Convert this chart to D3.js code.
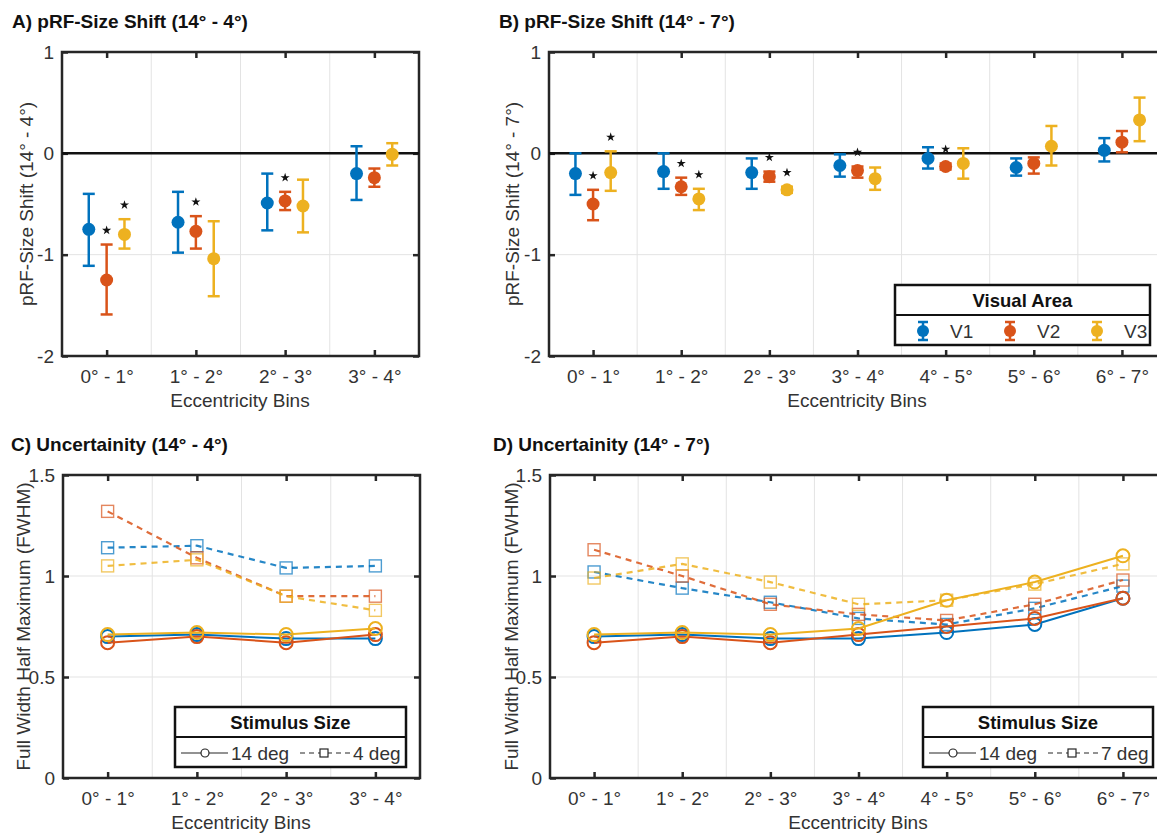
<!DOCTYPE html>
<html>
<head>
<meta charset="utf-8">
<script src="https://cdn.jsdelivr.net/npm/d3@7"></script>
<style>
  body { margin: 0; background: #fff; }
  svg { font-family: "Liberation Sans", Arial, sans-serif; }
  .tick text { fill: #333; font-size: 19px; }
</style>
</head>
<body>
<div id="chart"></div>
<script>
// bins and areas
var bins4 = ["0° - 1°", "1° - 2°", "2° - 3°", "3° - 4°"];
var bins7 = ["0° - 1°", "1° - 2°", "2° - 3°", "3° - 4°", "4° - 5°", "5° - 6°", "6° - 7°"];
var areas = ["V1", "V2", "V3"];
var colors = ["#0072BD", "#D95319", "#EDB120"];

// A) shift 14 - 4 : mean, lower, upper per area
var shiftA_mean = [[-0.75, -0.68, -0.49, -0.20], [-1.25, -0.77, -0.47, -0.24], [-0.80, -1.04, -0.52, -0.01]];
var shiftA_low  = [[-1.11, -0.98, -0.76, -0.46], [-1.59, -0.94, -0.56, -0.33], [-0.94, -1.41, -0.78, -0.12]];
var shiftA_high = [[-0.40, -0.38, -0.20, 0.07], [-0.90, -0.62, -0.38, -0.15], [-0.65, -0.67, -0.26, 0.10]];
var shiftA_sig  = [[0, 0, 0, 0], [1, 1, 1, 0], [1, 0, 0, 0]];

// B) shift 14 - 7
var shiftB_mean = [[-0.20, -0.18, -0.19, -0.12, -0.05, -0.14, 0.03], [-0.50, -0.33, -0.23, -0.17, -0.13, -0.10, 0.11], [-0.19, -0.45, -0.36, -0.25, -0.10, 0.07, 0.33]];
var shiftB_low  = [[-0.41, -0.35, -0.35, -0.23, -0.15, -0.22, -0.08], [-0.66, -0.41, -0.28, -0.24, -0.16, -0.20, 0.01], [-0.37, -0.56, -0.39, -0.36, -0.25, -0.12, 0.12]];
var shiftB_high = [[0.00, 0.00, -0.05, -0.01, 0.06, -0.05, 0.15], [-0.36, -0.24, -0.18, -0.13, -0.10, -0.04, 0.22], [0.02, -0.35, -0.33, -0.14, 0.05, 0.27, 0.55]];
var shiftB_sig  = [[0, 0, 0, 0, 0, 0, 0], [1, 1, 1, 1, 1, 0, 0], [1, 1, 1, 0, 0, 0, 0]];

// C) FWHM, 14 deg (solid) and 4 deg (dashed)
var fwhmC_14 = [[0.70, 0.71, 0.69, 0.69], [0.67, 0.70, 0.67, 0.71], [0.71, 0.72, 0.71, 0.74]];
var fwhmC_4  = [[1.14, 1.15, 1.04, 1.05], [1.32, 1.09, 0.90, 0.90], [1.05, 1.08, 0.90, 0.83]];

// D) FWHM, 14 deg (solid) and 7 deg (dashed)
var fwhmD_14 = [[0.70, 0.71, 0.69, 0.69, 0.72, 0.76, 0.89], [0.67, 0.70, 0.67, 0.71, 0.75, 0.79, 0.89], [0.71, 0.72, 0.71, 0.74, 0.88, 0.97, 1.10]];
var fwhmD_7  = [[1.02, 0.94, 0.87, 0.79, 0.76, 0.84, 0.95], [1.13, 1.00, 0.86, 0.81, 0.78, 0.86, 0.98], [0.99, 1.06, 0.97, 0.86, 0.88, 0.96, 1.06]];

var svgWidth = 1157, svgHeight = 836;
var ink = "#262626";

var svg = d3.select("#chart").append("svg")
  .attr("width", svgWidth)
  .attr("height", svgHeight);

// common frame: grid, box, ticks, labels
function drawFrame(o) {
  var n = o.bins.length;
  var x = d3.scaleLinear().domain([0.5, n + 0.5]).range([o.left, o.right]);
  var y = d3.scaleLinear().domain(o.yDomain).range([o.bottom, o.top]);
  var g = svg.append("g");

  // grid
  g.selectAll(".vgrid").data(d3.range(1, n)).enter().append("line")
    .attr("x1", d => x(d + 0.5)).attr("x2", d => x(d + 0.5))
    .attr("y1", o.top).attr("y2", o.bottom)
    .attr("stroke", "#e3e3e3").attr("stroke-width", 1);
  g.selectAll(".hgrid").data(o.yTicks.slice(1, -1)).enter().append("line")
    .attr("x1", o.left).attr("x2", o.right)
    .attr("y1", d => y(d)).attr("y2", d => y(d))
    .attr("stroke", "#e3e3e3").attr("stroke-width", 1);

  // axes
  var xb = d3.axisBottom(x).tickValues(d3.range(1, n + 1)).tickFormat(d => o.bins[d - 1])
    .tickSizeInner(-6).tickSizeOuter(0).tickPadding(14);
  var xt = d3.axisTop(x).tickValues(d3.range(1, n + 1)).tickFormat("")
    .tickSizeInner(-6).tickSizeOuter(0);
  var yl = d3.axisLeft(y).tickValues(o.yTicks).tickFormat(d => String(d)).tickSizeInner(-6).tickSizeOuter(0).tickPadding(8);
  var yr = d3.axisRight(y).tickValues(o.yTicks).tickFormat("").tickSizeInner(-6).tickSizeOuter(0);

  [g.append("g").attr("transform", `translate(0,${o.bottom})`).call(xb),
   g.append("g").attr("transform", `translate(0,${o.top})`).call(xt),
   g.append("g").attr("transform", `translate(${o.left},0)`).call(yl),
   g.append("g").attr("transform", `translate(${o.right},0)`).call(yr)].forEach(function(a) {
    a.select(".domain").remove();
    a.selectAll(".tick line").attr("stroke", ink).attr("stroke-width", 2.5);
  });

  g.append("rect")
    .attr("x", o.left).attr("y", o.top)
    .attr("width", o.right - o.left).attr("height", o.bottom - o.top)
    .attr("fill", "none").attr("stroke", ink).attr("stroke-width", 2.5);

  // labels
  svg.append("text")
    .attr("x", o.titleX).attr("y", o.top - 24)
    .attr("font-size", 19).attr("font-weight", "bold").attr("fill", "#111")
    .text(o.title);
  svg.append("text")
    .attr("x", o.labelMid)
    .attr("y", o.bottom + 51)
    .attr("text-anchor", "middle").attr("font-size", 19).attr("fill", "#333")
    .text("Eccentricity Bins");
  svg.append("text")
    .attr("transform", `translate(${o.ylabelX}, ${(o.top + o.bottom) / 2}) rotate(-90)`)
    .attr("text-anchor", "middle").attr("font-size", 19).attr("fill", "#333")
    .text(o.ylabel);

  return { g: g, x: x, y: y };
}

function drawShift(o, mean, low, high, sig) {
  var f = drawFrame(o);
  var x = f.x, y = f.y, g = f.g;
  g.append("line")
    .attr("x1", o.left).attr("x2", o.right)
    .attr("y1", y(0)).attr("y2", y(0))
    .attr("stroke", "#111").attr("stroke-width", 2.5);

  areas.forEach(function(a, k) {
    var dx = (k - 1) * 0.2;
    var rows = mean[k].map((m, i) => ({ i: i + 1, m: m, lo: low[k][i], hi: high[k][i], s: sig[k][i] }));
    var s = g.append("g").attr("stroke", colors[k]).attr("fill", colors[k]);
    s.selectAll(".eb").data(rows).enter().append("line")
      .attr("x1", d => x(d.i + dx)).attr("x2", d => x(d.i + dx))
      .attr("y1", d => y(d.lo)).attr("y2", d => y(d.hi)).attr("stroke-width", 2.5);
    s.selectAll(".capl").data(rows).enter().append("line")
      .attr("x1", d => x(d.i + dx) - 6).attr("x2", d => x(d.i + dx) + 6)
      .attr("y1", d => y(d.lo)).attr("y2", d => y(d.lo)).attr("stroke-width", 2.5);
    s.selectAll(".caph").data(rows).enter().append("line")
      .attr("x1", d => x(d.i + dx) - 6).attr("x2", d => x(d.i + dx) + 6)
      .attr("y1", d => y(d.hi)).attr("y2", d => y(d.hi)).attr("stroke-width", 2.5);
    s.selectAll("circle").data(rows).enter().append("circle")
      .attr("cx", d => x(d.i + dx)).attr("cy", d => y(d.m)).attr("r", 6.5).attr("stroke", "none");
    g.selectAll(".star" + k).data(rows.filter(d => d.s)).enter().append("path")
      .attr("d", d3.symbol(d3.symbolStar, 26))
      .attr("transform", d => `translate(${x(d.i + dx)},${y(d.hi + 0.14)})`)
      .attr("fill", "#111");
  });
}

function drawFwhm(o, solid, dashed) {
  var f = drawFrame(o);
  var x = f.x, y = f.y, g = f.g;
  var line = d3.line().x((d, i) => x(i + 1)).y(d => y(d));
  areas.forEach(function(a, k) {
    g.append("path").attr("d", line(dashed[k])).attr("fill", "none")
      .attr("stroke", colors[k]).attr("stroke-width", 2.2).attr("stroke-dasharray", "6,5").attr("stroke-opacity", 0.85);
    g.selectAll(".sq" + k).data(dashed[k]).enter().append("rect")
      .attr("x", (d, i) => x(i + 1) - 6).attr("y", d => y(d) - 6)
      .attr("width", 12).attr("height", 12)
      .attr("fill", "none").attr("stroke", colors[k]).attr("stroke-width", 1.4).attr("stroke-opacity", 0.7);
  });
  areas.forEach(function(a, k) {
    g.append("path").attr("d", line(solid[k])).attr("fill", "none")
      .attr("stroke", colors[k]).attr("stroke-width", 2);
    g.selectAll(".ci" + k).data(solid[k]).enter().append("circle")
      .attr("cx", (d, i) => x(i + 1)).attr("cy", d => y(d)).attr("r", 6.5)
      .attr("fill", "none").attr("stroke", colors[k]).attr("stroke-width", 2);
  });
}

function legendBox(x0, x1, y0, y1, yMid, title) {
  var g = svg.append("g");
  g.append("rect").attr("x", x0).attr("y", y0).attr("width", x1 - x0).attr("height", y1 - y0)
    .attr("fill", "#fff").attr("stroke", "#111").attr("stroke-width", 2.5);
  g.append("line").attr("x1", x0).attr("x2", x1).attr("y1", yMid).attr("y2", yMid)
    .attr("stroke", "#111").attr("stroke-width", 2);
  g.append("text").attr("x", (x0 + x1) / 2).attr("y", yMid - 8).attr("text-anchor", "middle")
    .attr("font-size", 18.5).attr("font-weight", "bold").attr("fill", "#111").text(title);
  return g;
}

function sizeLegend(x0, x1, lab14, labOther) {
  var g = legendBox(x0, x1, 707, 767, 737, "Stimulus Size");
  var yy = 753;
  g.append("line").attr("x1", x0 + 6).attr("x2", x0 + 53).attr("y1", yy).attr("y2", yy)
    .attr("stroke", ink).attr("stroke-width", 1.2);
  g.append("circle").attr("cx", x0 + 30).attr("cy", yy).attr("r", 4)
    .attr("fill", "#fff").attr("stroke", ink).attr("stroke-width", 1.2);
  g.append("text").attr("x", x0 + 56).attr("y", yy + 7).attr("font-size", 19).attr("fill", "#333").text(lab14);
  g.append("line").attr("x1", x0 + 125).attr("x2", x0 + 176).attr("y1", yy).attr("y2", yy)
    .attr("stroke", ink).attr("stroke-width", 1.2).attr("stroke-dasharray", "5,4");
  g.append("rect").attr("x", x0 + 145).attr("y", yy - 4).attr("width", 8).attr("height", 8)
    .attr("fill", "#fff").attr("stroke", ink).attr("stroke-width", 1.2);
  g.append("text").attr("x", x0 + 178).attr("y", yy + 7).attr("font-size", 19).attr("fill", "#333").text(labOther);
}

var rowTop = { left: 62, right: 419, top: 52, bottom: 356, yDomain: [-2, 1], yTicks: [-2, -1, 0, 1] };

drawShift(Object.assign({}, rowTop, {
  bins: bins4, title: "A) pRF-Size Shift (14° - 4°)", titleX: 12, labelMid: 240,
  ylabel: "pRF-Size Shift (14° - 4°)", ylabelX: 33
}), shiftA_mean, shiftA_low, shiftA_high, shiftA_sig);

drawShift(Object.assign({}, rowTop, {
  left: 549, right: 1166, labelMid: 857,
  bins: bins7, title: "B) pRF-Size Shift (14° - 7°)", titleX: 499,
  ylabel: "pRF-Size Shift (14° - 7°)", ylabelX: 519
}), shiftB_mean, shiftB_low, shiftB_high, shiftB_sig);

var rowBot = { top: 475, bottom: 778, yDomain: [0, 1.5], yTicks: [0, 0.5, 1, 1.5] };

drawFwhm(Object.assign({}, rowBot, {
  left: 63, right: 420, labelMid: 241,
  bins: bins4, title: "C) Uncertainity (14° - 4°)", titleX: 11,
  ylabel: "Full Width Half Maximum (FWHM)", ylabelX: 30
}), fwhmC_14, fwhmC_4);

drawFwhm(Object.assign({}, rowBot, {
  left: 550, right: 1167, labelMid: 858,
  bins: bins7, title: "D) Uncertainity (14° - 7°)", titleX: 493,
  ylabel: "Full Width Half Maximum (FWHM)", ylabelX: 518
}), fwhmD_14, fwhmD_7);

// Visual area legend
var la = legendBox(895, 1150, 285, 345, 315, "Visual Area");
var legX = [923, 1010, 1097];
areas.forEach(function(a, k) {
  var cx = legX[k], cy = 331;
  la.append("line").attr("x1", cx).attr("x2", cx).attr("y1", cy - 9).attr("y2", cy + 9)
    .attr("stroke", colors[k]).attr("stroke-width", 2.5);
  [cy - 9, cy + 9].forEach(function(yy) {
    la.append("line").attr("x1", cx - 5).attr("x2", cx + 5).attr("y1", yy).attr("y2", yy)
      .attr("stroke", colors[k]).attr("stroke-width", 2.5);
  });
  la.append("circle").attr("cx", cx).attr("cy", cy).attr("r", 6).attr("fill", colors[k]);
  la.append("text").attr("x", cx + 27).attr("y", cy + 7).attr("font-size", 19).attr("fill", "#333").text(a);
});

sizeLegend(175, 406, "14 deg", "4 deg");
sizeLegend(923, 1153, "14 deg", "7 deg");
</script>
</body>
</html>
